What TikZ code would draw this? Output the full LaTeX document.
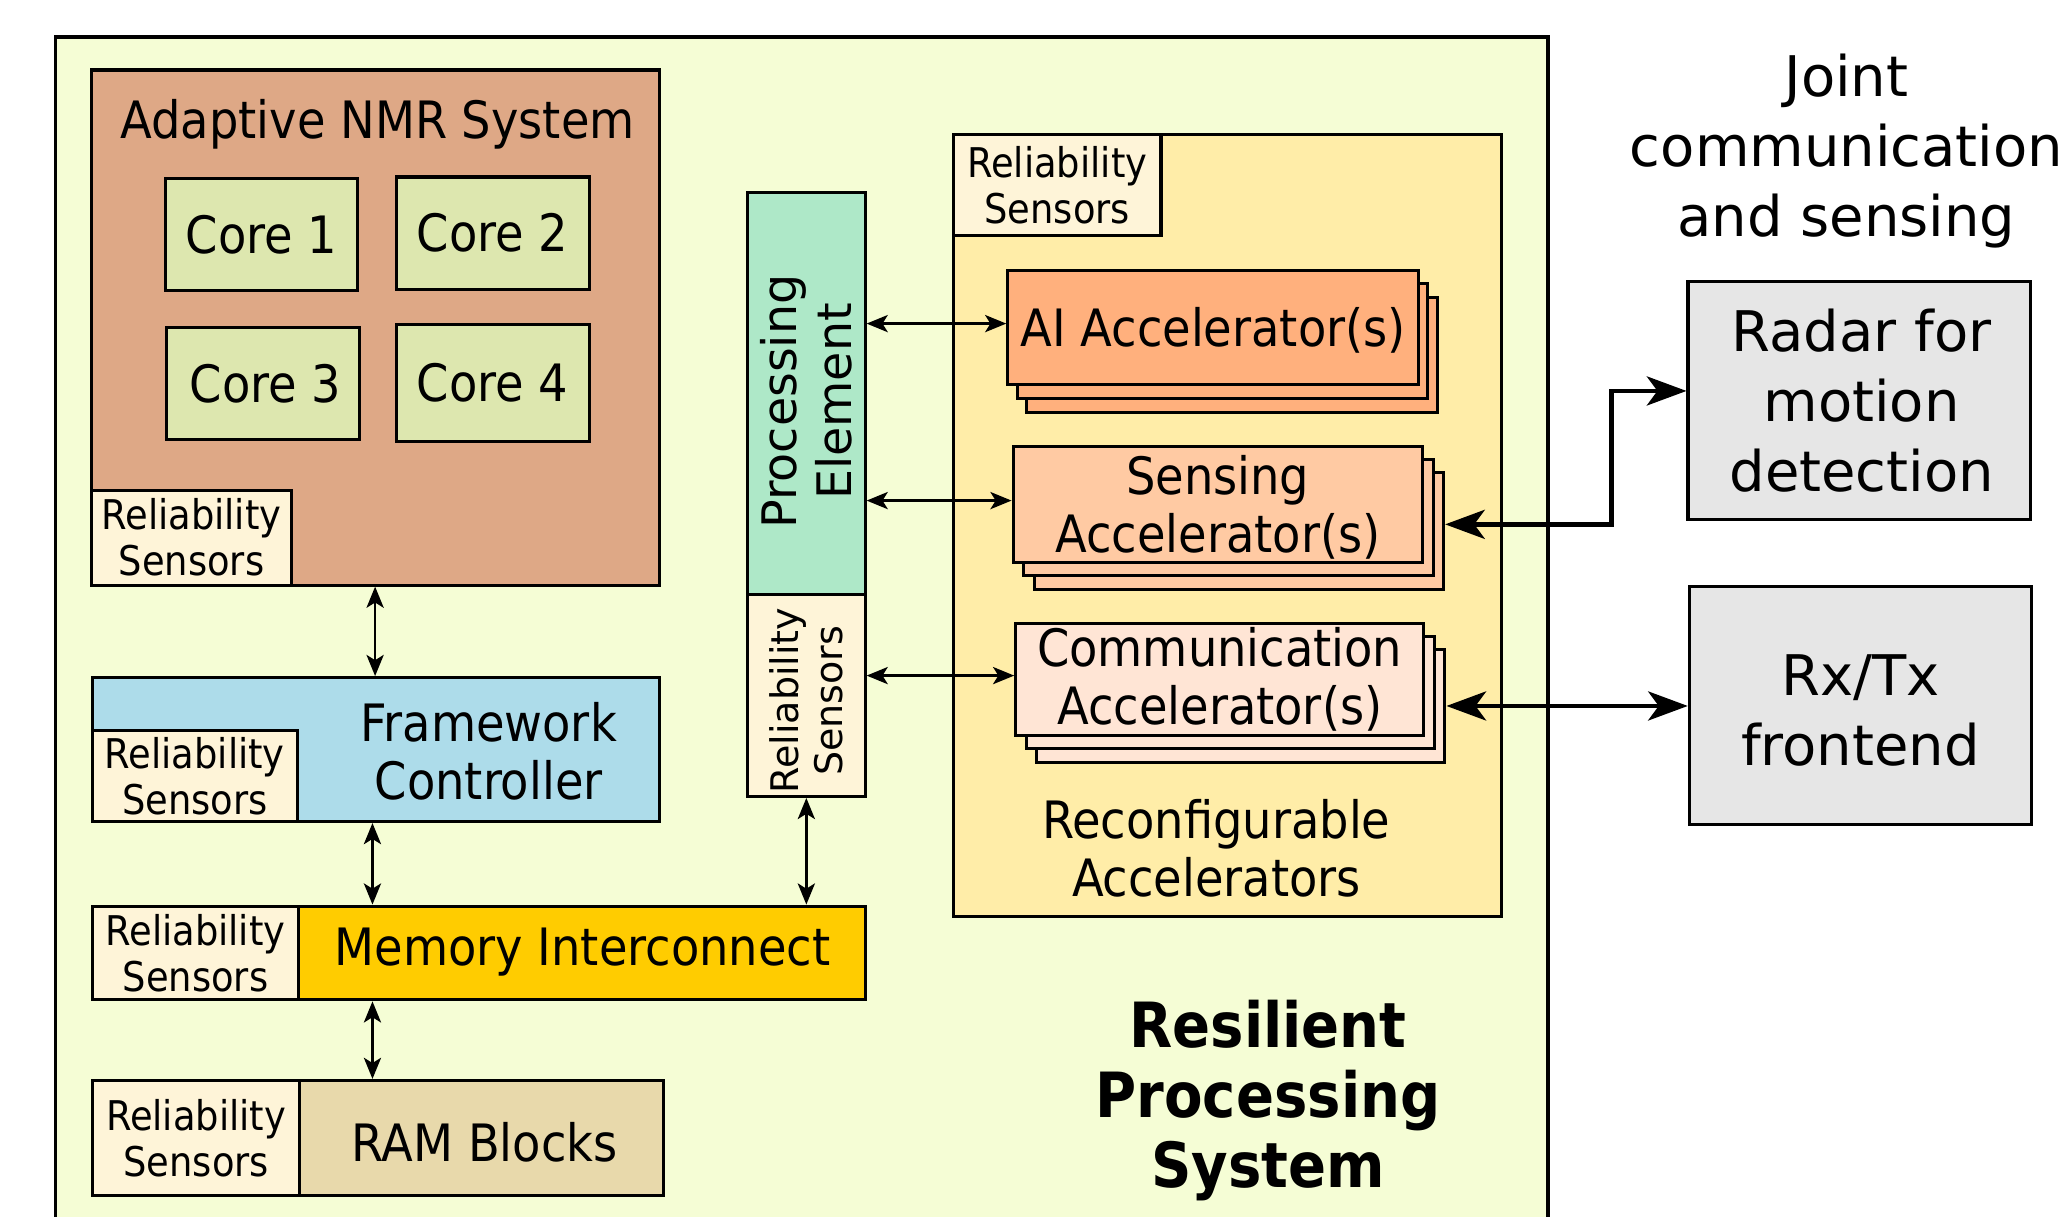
\documentclass[tikz,border=0pt]{standalone}
\usepackage{fontspec}
\setmainfont{DejaVu Sans Condensed}
\newfontfamily\widefont{DejaVu Sans}
\usetikzlibrary{arrows.meta,fit,calc}
\definecolor{outerc}{HTML}{F5FDD5}
\definecolor{nmrc}{HTML}{DEA886}
\definecolor{corec}{HTML}{DDE7AF}
\definecolor{relc}{HTML}{FEF4D8}
\definecolor{fcc}{HTML}{ADDCEA}
\definecolor{memc}{HTML}{FFCC00}
\definecolor{ramc}{HTML}{E8D9AB}
\definecolor{pec}{HTML}{AEE8C8}
\definecolor{recc}{HTML}{FFEDA8}
\definecolor{aic}{HTML}{FFB07D}
\definecolor{senc}{HTML}{FFCAA3}
\definecolor{comc}{HTML}{FFE5D5}
\definecolor{greyc}{HTML}{E6E6E6}
\begin{document}
\begin{tikzpicture}[x=0.5pt,y=-0.5pt,
  blk/.style={draw=black, line width=1.15pt, inner sep=0pt},
  bigt/.style={font=\fontsize{19.5}{22}\selectfont, align=center, inner sep=0pt},
  relt/.style={font=\fontsize{15.5}{17.5}\selectfont, align=center, inner sep=0pt},
  widet/.style={font=\widefont\fontsize{21.2}{26.5}\selectfont, align=center, inner sep=0pt},
  pet/.style={font=\widefont\fontsize{18}{21}\selectfont, align=center, inner sep=0pt},
  prelt/.style={font=\widefont\fontsize{14.4}{17}\selectfont, align=center, inner sep=0pt},
  boldt/.style={font=\bfseries\fontsize{23.6}{26.5}\selectfont, align=center, inner sep=0pt},
  thinarr/.style={{Stealth[length=8pt,width=6.5pt,inset=2pt]}-{Stealth[length=8pt,width=6.5pt,inset=2pt]}, line width=0.95pt},
  thickarr/.style={{Stealth[length=15pt,width=11pt,inset=4pt]}-{Stealth[length=15pt,width=11pt,inset=4pt]}, line width=1.7pt}
]
\useasboundingbox (0,0) rectangle (1568,921);
\clip (0,0) rectangle (1568,921);
\fill[white] (0,0) rectangle (1568,921);

% outer system
\node[blk, fill=outerc, fit={(42,28) (1172,940)}] (outer) {};
\node[boldt] (rest) at (960,833) {Resilient\\Processing\\System};

% Adaptive NMR
\node[blk, fill=nmrc, fit={(69,53) (499,443)}] (nmr) {};
\node[bigt] (nmrt) at (286,94) {Adaptive NMR System};
\node[blk, fill=corec, fit={(125,135) (271,220)}] (core1) {};
\node[bigt] (core1t) at (core1.center) {Core 1};
\node[blk, fill=corec, fit={(300,134) (446,219)}] (core2) {};
\node[bigt] (core2t) at (core2.center) {Core 2};
\node[blk, fill=corec, fit={(126,248) (272,333)}] (core3) {};
\node[bigt] (core3t) at ([xshift=1pt]core3.center) {Core 3};
\node[blk, fill=corec, fit={(300,246) (446,334)}] (core4) {};
\node[bigt] (core4t) at (core4.center) {Core 4};
\node[blk, fill=relc, fit={(69,371) (221,443)}] (nmrrel) {};
\node[relt] (nmrrelt) at (nmrrel.center) {Reliability\\Sensors};

% Framework controller
\node[blk, fill=fcc, fit={(70,513) (499,622)}] (fc) {};
\node[blk, fill=relc, fit={(70,553) (225,622)}] (fcrel) {};
\node[relt] (fcrelt) at (fcrel.center) {Reliability\\Sensors};
\node[bigt] (fct) at (370,569) {Framework\\Controller};

% Memory interconnect
\node[blk, fill=memc, fit={(70,686) (655,757)}] (mem) {};
\node[blk, fill=relc, fit={(70,686) (226,757)}] (memrel) {};
\node[relt] (memrelt) at (memrel.center) {Reliability\\Sensors};
\node[bigt] (memt) at (441,721) {Memory Interconnect};

% RAM blocks
\node[blk, fill=ramc, fit={(70,818) (502,905)}] (ram) {};
\node[blk, fill=relc, fit={(70,818) (227,905)}] (ramrel) {};
\node[relt] (ramrelt) at (ramrel.center) {Reliability\\Sensors};
\node[bigt] (ramt) at (367,865) {RAM Blocks};

% Processing element
\node[blk, fill=pec, fit={(566,146) (655,450)}] (pe) {};
\node[pet, rotate=90] (pet) at ([yshift=-3pt]pe.center) {Processing\\Element};
\node[blk, fill=relc, fit={(566,450) (655,603)}] (perel) {};
\node[prelt, rotate=90] (perelt) at ([yshift=-2pt]perel.center) {Reliability\\Sensors};

% Reconfigurable accelerators
\node[blk, fill=recc, fit={(722,102) (1137,694)}] (rec) {};
\node[blk, fill=relc, fit={(722,102) (879,178)}] (recrel) {};
\node[relt] (recrelt) at (recrel.center) {Reliability\\Sensors};
\node[bigt] (rect) at (921,642) {Reconfigurable\\Accelerators};

\node[blk, fill=aic, fit={(777,225) (1088,312)}] (ai3) {};
\node[blk, fill=aic, fit={(770,215) (1081,302)}] (ai2) {};
\node[blk, fill=aic, fit={(763,205) (1074,291)}] (ai) {};
\node[bigt] (ait) at ([yshift=-1pt]ai.center) {AI Accelerator(s)};

\node[blk, fill=senc, fit={(783,358) (1093,446)}] (sen3) {};
\node[blk, fill=senc, fit={(775,348) (1085,436)}] (sen2) {};
\node[blk, fill=senc, fit={(767,338) (1077,426)}] (sen) {};
\node[bigt] (sent) at ([yshift=-1pt]sen.center) {Sensing\\Accelerator(s)};

\node[blk, fill=comc, fit={(785,492) (1094,577)}] (com3) {};
\node[blk, fill=comc, fit={(777,482) (1086,567)}] (com2) {};
\node[blk, fill=comc, fit={(769,472) (1078,557)}] (com) {};
\node[bigt] (comt) at (com.center) {Communication\\Accelerator(s)};

% Joint communication and sensing
\node[widet] (joint) at (1398,114) {Joint\\communication\\and sensing};
\node[blk, fill=greyc, fit={(1278,213) (1537,393)}] (radar) {};
\node[widet] (radart) at ([xshift=1pt]radar.center) {Radar for\\motion\\detection};
\node[blk, fill=greyc, fit={(1279,444) (1538,624)}] (rxtx) {};
\node[widet] (rxtxt) at ([yshift=-2pt]rxtx.center) {Rx/Tx\\frontend};

% connectors
\coordinate (xa) at (284,0);
\coordinate (xb) at (282,0);
\draw[thinarr] (nmr.south -| xa) -- (fc.north -| xa);
\draw[thinarr] (fc.south -| xb) -- (mem.north -| xb);
\draw[thinarr] (mem.south -| xb) -- (ram.north -| xb);
\draw[thinarr] (perel.south) -- (mem.north -| perel.south);
\draw[thinarr] ([yshift=1.5pt]ai.west -| pe.east) -- ([yshift=1.5pt]ai.west);
\draw[thinarr] ([yshift=1.5pt]sen.west -| pe.east) -- ([yshift=1.5pt]sen.west);
\draw[thinarr] ([yshift=1.5pt]com.west -| perel.east) -- ([yshift=1.5pt]com.west);

\draw[thickarr] ([yshift=2.5pt]sen3.east) -- ++(126,0) |- ([yshift=3.5pt]radar.west);
\draw[thickarr] (com3.east) -- (rxtx.west |- com3.east);
\end{tikzpicture}
\end{document}
